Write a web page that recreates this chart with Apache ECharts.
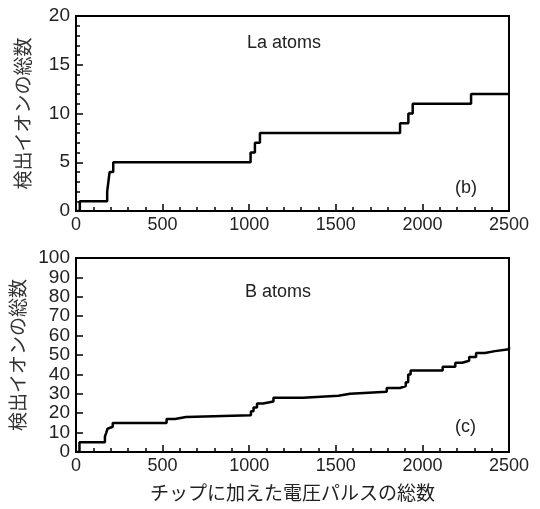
<!DOCTYPE html>
<html>
<head>
<meta charset="utf-8">
<script src="https://cdn.jsdelivr.net/npm/echarts@6/dist/echarts.min.js"></script>
<style>
  html, body { margin: 0; padding: 0; background: #fff; }
  #chart { width: 540px; height: 509px; }
</style>
</head>
<body>
<div id="chart"></div>
<script>
// La atoms (b): pulse count where the total changes, and the new total
const laPulses = [0, 22, 180, 187, 194, 215, 1008, 1033, 1062, 1871, 1919, 1944, 2281, 2500];
const laCounts = [0, 1, 2, 3, 4, 5, 6, 7, 8, 9, 10, 11, 12, 12];

// B atoms (c)
const bPulses = [0, 20, 167, 175, 182, 190, 212, 523, 571, 635, 1010, 1025, 1045, 1080, 1140, 1312, 1515, 1582, 1794, 1871, 1904, 1918, 1932, 2117, 2190, 2230, 2270, 2310, 2361, 2419, 2500];
const bCounts = [0, 5, 8, 10, 12, 13, 15, 17, 18, 19, 21, 23, 25, 26, 28, 29, 30, 31, 33, 34, 36, 40, 42, 44, 46, 47, 49, 51, 52, 53, 54];

const xTicks = [0, 500, 1000, 1500, 2000, 2500];
const yAxisTitle = '検出イオンの総数';
const xAxisTitle = 'チップに加えた電圧パルスの総数';

const numFont = '"Liberation Sans", "DejaVu Sans", sans-serif';
const jpFont = '"Noto Sans CJK JP", sans-serif';

const chart = echarts.init(document.getElementById('chart'));

function xAxisOpt(gridIndex, name) {
  return {
    type: 'value',
    gridIndex: gridIndex,
    min: 0,
    max: 2500,
    interval: 500,
    name: name,
    nameLocation: 'middle',
    nameGap: 31,
    nameTextStyle: { color: '#222', fontFamily: jpFont, fontSize: 19 },
    axisLine: { show: true, lineStyle: { color: '#000', width: 2 } },
    axisTick: { show: true, inside: true, length: 7, lineStyle: { color: '#000', width: 1.5 } },
    minorTick: { show: true, splitNumber: 5, length: 4, lineStyle: { color: '#000', width: 1.5 } },
    splitLine: { show: false },
    axisLabel: {
      color: '#222',
      fontFamily: numFont,
      fontSize: 18,
      margin: 5,
      formatter: v => (xTicks.indexOf(v) >= 0 ? String(v) : '')
    }
  };
}

function yAxisOpt(gridIndex, max, interval, minor) {
  return {
    type: 'value',
    gridIndex: gridIndex,
    min: 0,
    max: max,
    interval: interval,
    name: yAxisTitle,
    nameLocation: 'middle',
    nameGap: 44,
    nameRotate: 90,
    nameTextStyle: { color: '#333', fontFamily: jpFont, fontSize: 19 },
    axisLine: { show: true, lineStyle: { color: '#000', width: 2 } },
    axisTick: { show: true, inside: true, length: 7, lineStyle: { color: '#000', width: 1.5 } },
    minorTick: { show: minor > 0, splitNumber: minor || 5, length: 4, lineStyle: { color: '#000', width: 1.5 } },
    splitLine: { show: false },
    axisLabel: { color: '#222', fontFamily: numFont, fontSize: 19, margin: 6 }
  };
}

const options = {
  animation: false,
  backgroundColor: '#fff',
  grid: [
    { left: 76, right: 31, top: 16, height: 195, show: true, borderColor: '#000', borderWidth: 2 },
    { left: 76, right: 31, top: 258, height: 194, show: true, borderColor: '#000', borderWidth: 2 }
  ],
  xAxis: [xAxisOpt(0, ''), xAxisOpt(1, xAxisTitle)],
  yAxis: [yAxisOpt(0, 20, 5, 5), yAxisOpt(1, 100, 10, 0)],
  series: [
    {
      name: 'La atoms',
      type: 'line',
      step: 'end',
      xAxisIndex: 0,
      yAxisIndex: 0,
      showSymbol: false,
      lineStyle: { color: '#000', width: 2.5 },
      data: laPulses.map((p, i) => [p, laCounts[i]])
    },
    {
      name: 'B atoms',
      type: 'line',
      step: 'end',
      xAxisIndex: 1,
      yAxisIndex: 1,
      showSymbol: false,
      lineStyle: { color: '#000', width: 2.5 },
      data: bPulses.map((p, i) => [p, bCounts[i]])
    }
  ],
  graphic: [
    { type: 'text', left: 247, top: 34, style: { text: 'La atoms', fill: '#222', font: '18px ' + numFont } },
    { type: 'text', left: 245, top: 283, style: { text: 'B atoms', fill: '#222', font: '18px ' + numFont } },
    { type: 'text', left: 455, top: 179, style: { text: '(b)', fill: '#222', font: '18px ' + numFont } },
    { type: 'text', left: 455, top: 418, style: { text: '(c)', fill: '#222', font: '18px ' + numFont } }
  ]
};

chart.setOption(options);
</script>
</body>
</html>
